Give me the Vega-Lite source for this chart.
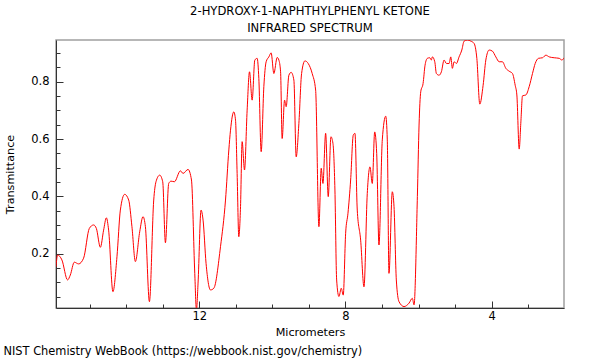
{
  "$schema": "https://vega.github.io/schema/vega-lite/v6.json",
  "padding": {"left": 3, "top": 5, "right": 5, "bottom": 5},
  "background": "white",
  "config": {
    "font": "DejaVu Sans",
    "view": {"stroke": "#a0a0a0", "strokeWidth": 1.5},
    "concat": {"spacing": 0}
  },
  "title": {
    "text": "NIST Chemistry WebBook (https://webbook.nist.gov/chemistry)",
    "orient": "bottom",
    "anchor": "start",
    "frame": "bounds",
    "fontSize": 11.4,
    "fontWeight": "normal",
    "color": "#000000",
    "offset": 8
  },
  "vconcat": [
    {
      "width": 508,
      "height": 268,
      "title": {
        "text": ["2-HYDROXY-1-NAPHTHYLPHENYL KETONE", "INFRARED SPECTRUM"],
        "fontSize": 11.6,
        "fontWeight": "normal",
        "color": "#000000",
        "lineHeight": 17,
        "anchor": "middle",
        "frame": "group",
        "offset": 5
      },
      "data": {
        "values": [
          {"um": 15.92, "t": 0.154}, {"um": 15.876, "t": 0.195}, {"um": 15.759, "t": 0.178}, {"um": 15.603, "t": 0.108},
          {"um": 15.529, "t": 0.125}, {"um": 15.419, "t": 0.170}, {"um": 15.301, "t": 0.164}, {"um": 15.165, "t": 0.184},
          {"um": 15.008, "t": 0.288}, {"um": 14.891, "t": 0.300}, {"um": 14.816, "t": 0.288}, {"um": 14.706, "t": 0.222},
          {"um": 14.617, "t": 0.282}, {"um": 14.542, "t": 0.325}, {"um": 14.480, "t": 0.282}, {"um": 14.362, "t": 0.067},
          {"um": 14.252, "t": 0.189}, {"um": 14.159, "t": 0.352}, {"um": 14.041, "t": 0.407}, {"um": 13.931, "t": 0.387},
          {"um": 13.842, "t": 0.294}, {"um": 13.748, "t": 0.172}, {"um": 13.630, "t": 0.276}, {"um": 13.539, "t": 0.329},
          {"um": 13.474, "t": 0.294}, {"um": 13.364, "t": 0.032}, {"um": 13.246, "t": 0.387}, {"um": 13.184, "t": 0.451},
          {"um": 13.082, "t": 0.474}, {"um": 13.000, "t": 0.451}, {"um": 12.926, "t": 0.238}, {"um": 12.836, "t": 0.445},
          {"um": 12.772, "t": 0.453}, {"um": 12.680, "t": 0.451}, {"um": 12.516, "t": 0.489}, {"um": 12.444, "t": 0.480},
          {"um": 12.307, "t": 0.494}, {"um": 12.213, "t": 0.457}, {"um": 12.123, "t": 0.131}, {"um": 12.077, "t": 0.003},
          {"um": 12.033, "t": 0.097}, {"um": 11.951, "t": 0.352}, {"um": 11.896, "t": 0.317}, {"um": 11.814, "t": 0.166},
          {"um": 11.693, "t": 0.073}, {"um": 11.602, "t": 0.079}, {"um": 11.419, "t": 0.224}, {"um": 11.282, "t": 0.387},
          {"um": 11.191, "t": 0.562}, {"um": 11.145, "t": 0.631}, {"um": 11.055, "t": 0.695}, {"um": 11.008, "t": 0.666},
          {"um": 10.964, "t": 0.480}, {"um": 10.918, "t": 0.259}, {"um": 10.871, "t": 0.364}, {"um": 10.827, "t": 0.591},
          {"um": 10.762, "t": 0.492}, {"um": 10.690, "t": 0.701}, {"um": 10.625, "t": 0.835}, {"um": 10.553, "t": 0.736},
          {"um": 10.480, "t": 0.876}, {"um": 10.416, "t": 0.882}, {"um": 10.370, "t": 0.812}, {"um": 10.306, "t": 0.556},
          {"um": 10.233, "t": 0.783}, {"um": 10.170, "t": 0.870}, {"um": 10.096, "t": 0.887}, {"um": 10.033, "t": 0.901},
          {"um": 9.959, "t": 0.829}, {"um": 9.868, "t": 0.885}, {"um": 9.822, "t": 0.876}, {"um": 9.775, "t": 0.835},
          {"um": 9.732, "t": 0.602}, {"um": 9.666, "t": 0.736}, {"um": 9.622, "t": 0.713}, {"um": 9.548, "t": 0.823},
          {"um": 9.485, "t": 0.833}, {"um": 9.411, "t": 0.806}, {"um": 9.348, "t": 0.538}, {"um": 9.274, "t": 0.655},
          {"um": 9.200, "t": 0.829}, {"um": 9.109, "t": 0.873}, {"um": 9.019, "t": 0.864}, {"um": 8.910, "t": 0.829},
          {"um": 8.816, "t": 0.771}, {"um": 8.726, "t": 0.294}, {"um": 8.663, "t": 0.498}, {"um": 8.616, "t": 0.445},
          {"um": 8.542, "t": 0.620}, {"um": 8.471, "t": 0.399}, {"um": 8.397, "t": 0.608}, {"um": 8.342, "t": 0.585},
          {"um": 8.288, "t": 0.422}, {"um": 8.241, "t": 0.108}, {"um": 8.178, "t": 0.050}, {"um": 8.115, "t": 0.079},
          {"um": 8.060, "t": 0.055}, {"um": 7.995, "t": 0.271}, {"um": 7.931, "t": 0.341}, {"um": 7.858, "t": 0.457},
          {"um": 7.786, "t": 0.614}, {"um": 7.740, "t": 0.620}, {"um": 7.677, "t": 0.352}, {"um": 7.584, "t": 0.247},
          {"um": 7.493, "t": 0.084}, {"um": 7.403, "t": 0.410}, {"um": 7.329, "t": 0.503}, {"um": 7.266, "t": 0.445},
          {"um": 7.200, "t": 0.625}, {"um": 7.145, "t": 0.550}, {"um": 7.083, "t": 0.230}, {"um": 6.992, "t": 0.597},
          {"um": 6.898, "t": 0.680}, {"um": 6.855, "t": 0.597}, {"um": 6.809, "t": 0.131}, {"um": 6.718, "t": 0.416},
          {"um": 6.671, "t": 0.364}, {"um": 6.608, "t": 0.108}, {"um": 6.534, "t": 0.032}, {"um": 6.397, "t": 0.015},
          {"um": 6.260, "t": 0.027}, {"um": 6.170, "t": 0.044}, {"um": 6.123, "t": 0.021}, {"um": 6.032, "t": 0.399},
          {"um": 5.986, "t": 0.649}, {"um": 5.940, "t": 0.765}, {"um": 5.876, "t": 0.794}, {"um": 5.822, "t": 0.858},
          {"um": 5.759, "t": 0.882}, {"um": 5.693, "t": 0.884}, {"um": 5.650, "t": 0.876}, {"um": 5.622, "t": 0.887},
          {"um": 5.556, "t": 0.870}, {"um": 5.512, "t": 0.829}, {"um": 5.438, "t": 0.823}, {"um": 5.375, "t": 0.835},
          {"um": 5.301, "t": 0.876}, {"um": 5.238, "t": 0.864}, {"um": 5.164, "t": 0.864}, {"um": 5.118, "t": 0.887},
          {"um": 5.074, "t": 0.847}, {"um": 5.028, "t": 0.870}, {"um": 4.964, "t": 0.864}, {"um": 4.891, "t": 0.887},
          {"um": 4.816, "t": 0.911}, {"um": 4.754, "t": 0.942}, {"um": 4.663, "t": 0.946}, {"um": 4.569, "t": 0.942},
          {"um": 4.480, "t": 0.934}, {"um": 4.405, "t": 0.882}, {"um": 4.324, "t": 0.722}, {"um": 4.233, "t": 0.788},
          {"um": 4.159, "t": 0.876}, {"um": 4.068, "t": 0.911}, {"um": 3.978, "t": 0.907}, {"um": 3.885, "t": 0.887},
          {"um": 3.794, "t": 0.870}, {"um": 3.705, "t": 0.870}, {"um": 3.611, "t": 0.847}, {"um": 3.520, "t": 0.837},
          {"um": 3.430, "t": 0.829}, {"um": 3.356, "t": 0.788}, {"um": 3.310, "t": 0.754}, {"um": 3.246, "t": 0.565},
          {"um": 3.200, "t": 0.660}, {"um": 3.156, "t": 0.751}, {"um": 3.063, "t": 0.754}, {"um": 2.973, "t": 0.783},
          {"um": 2.882, "t": 0.829}, {"um": 2.808, "t": 0.864}, {"um": 2.718, "t": 0.882}, {"um": 2.608, "t": 0.884},
          {"um": 2.515, "t": 0.893}, {"um": 2.425, "t": 0.887}, {"um": 2.288, "t": 0.884}, {"um": 2.151, "t": 0.882},
          {"um": 2.076, "t": 0.876}, {"um": 2.02, "t": 0.884}
        ]
      },
      "mark": {"type": "line", "color": "#ff0000", "strokeWidth": 1, "interpolate": "monotone", "clip": true},
      "encoding": {
        "x": {
          "field": "um",
          "type": "quantitative",
          "scale": {"domain": [2.02, 15.92], "reverse": true, "nice": false, "zero": false},
          "axis": {
            "title": "Micrometers",
            "values": [3, 4, 5, 6, 7, 8, 9, 10, 11, 12, 13, 14, 15],
            "labelExpr": "datum.value % 4 === 0 ? datum.label : ''",
            "labelOverlap": false,
            "labelFlush": false,
            "tickSize": {"condition": {"test": "datum.value % 4 === 0", "value": -7}, "value": -4},
            "tickColor": "#333333",
            "domainColor": "#333333",
            "grid": false,
            "labelFontSize": 11.5,
            "labelColor": "#000000",
            "labelPadding": 9,
            "titleFontSize": 11.2,
            "titleFontWeight": "normal",
            "titleColor": "#000000",
            "titlePadding": 2
          }
        },
        "y": {
          "field": "t",
          "type": "quantitative",
          "scale": {"domain": [0.01, 0.946], "nice": false, "zero": false},
          "axis": {
            "title": "Transmittance",
            "values": [0.05, 0.1, 0.15, 0.2, 0.25, 0.3, 0.35, 0.4, 0.45, 0.5, 0.55, 0.6, 0.65, 0.7, 0.75, 0.8, 0.85, 0.9],
            "labelExpr": "abs(datum.value * 5 - round(datum.value * 5)) < 0.001 ? format(datum.value, '.1f') : ''",
            "labelOverlap": false,
            "labelFlush": false,
            "tickSize": {"condition": {"test": "abs(datum.value * 5 - round(datum.value * 5)) < 0.001", "value": -7}, "value": -4},
            "tickColor": "#333333",
            "domainColor": "#333333",
            "grid": false,
            "labelFontSize": 11.5,
            "labelColor": "#000000",
            "labelPadding": 14,
            "titleFontSize": 11.2,
            "titleFontWeight": "normal",
            "titleColor": "#000000",
            "titlePadding": 15.5
          }
        }
      }
    }
  ]
}
